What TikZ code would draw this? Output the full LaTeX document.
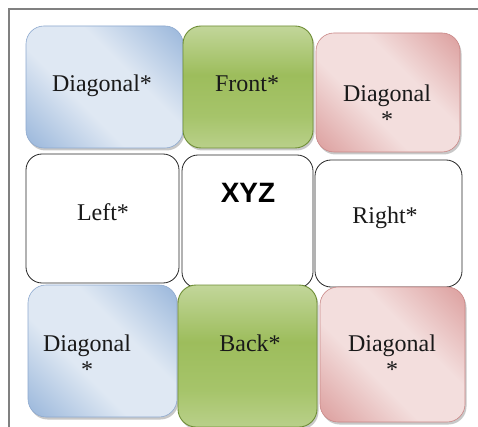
\documentclass[tikz,border=0pt]{standalone}
\usepackage{fontspec}
\setmainfont{Liberation Serif}
\newfontfamily\headfont{Liberation Sans}
\usetikzlibrary{shadows}

\definecolor{bluedark}{HTML}{9AB7DB}
\definecolor{bluelight}{HTML}{DFE8F3}
\definecolor{blueedge}{HTML}{8DA9CF}
\definecolor{pinkdark}{HTML}{DC9F9E}
\definecolor{pinklight}{HTML}{F3DEDD}
\definecolor{pinkedge}{HTML}{C98786}
\definecolor{greentop}{HTML}{C2D69A}
\definecolor{greenmid}{HTML}{9DBD5C}
\definecolor{greenlow}{HTML}{A6C46A}
\definecolor{greenbot}{HTML}{B9D08A}
\definecolor{greenedge}{HTML}{6F8E36}
\definecolor{framegray}{HTML}{808080}

% diagonal sheen: dark corners, light middle band
\pgfdeclarehorizontalshading{bluesheen}{100bp}{color(0bp)=(bluedark); color(15bp)=(bluedark); color(40bp)=(bluelight); color(60bp)=(bluelight); color(85bp)=(bluedark); color(100bp)=(bluedark)}
\pgfdeclarehorizontalshading{pinksheen}{100bp}{color(0bp)=(pinkdark); color(15bp)=(pinkdark); color(40bp)=(pinklight); color(60bp)=(pinklight); color(85bp)=(pinkdark); color(100bp)=(pinkdark)}
% vertical sheen for the green tiles (bottom to top)
\pgfdeclareverticalshading{greensheen}{100bp}{color(0bp)=(greenbot); color(25bp)=(greenbot); color(38bp)=(greenlow); color(55bp)=(greenmid); color(75bp)=(greentop); color(100bp)=(greentop)}

\tikzset{
  tile/.style={rectangle, rounded corners=18pt, inner sep=0pt,
    drop shadow={shadow xshift=1.5pt, shadow yshift=-2.5pt, opacity=0.3, fill=black!70}},
  bluetile/.style={tile, draw=blueedge, line width=0.6pt, shading=bluesheen, shading angle=45},
  pinktile/.style={tile, draw=pinkedge, line width=0.6pt, shading=pinksheen, shading angle=45},
  greentile/.style={tile, draw=greenedge, line width=0.9pt, shading=greensheen},
  plaintile/.style={rectangle, rounded corners=16pt, inner sep=0pt, draw=black!85,
    line width=0.8pt, fill=white},
  caption/.style={font=\fontsize{24}{26}\selectfont, text=black!90, align=center, inner sep=0pt},
  heading/.style={font=\headfont\bfseries\fontsize{28}{30}\selectfont, text=black, inner sep=0pt}
}

\begin{document}
\begin{tikzpicture}[x=1pt, y=-1pt]
  \useasboundingbox (0,0) rectangle (478,427);
  \fill[white] (0,0) rectangle (478,427);

  % outer frame, cut by the page at right and bottom
  \draw[framegray, line width=1.6pt] (9,440) -- (9,9) -- (490,9);

  % top row
  \node[bluetile, minimum width=157pt, minimum height=122pt] (dtl) at (104.5,87) {};
  \node[greentile, minimum width=130pt, minimum height=122pt] (front) at (248,87) {};
  \node[pinktile, minimum width=144pt, minimum height=119pt] (dtr) at (388,92.5) {};

  % middle row
  \node[plaintile, minimum width=153pt, minimum height=129pt] (left) at (102.5,218.5) {};
  \node[plaintile, minimum width=131pt, minimum height=133pt] (xyz) at (247.5,221.5) {};
  \node[plaintile, minimum width=147pt, minimum height=127pt] (right) at (388.5,223.5) {};

  % bottom row
  \node[bluetile, minimum width=149pt, minimum height=132pt] (dbl) at (102.5,351) {};
  \node[greentile, minimum width=139pt, minimum height=142pt] (back) at (247.5,356) {};
  \node[pinktile, minimum width=145pt, minimum height=135pt] (dbr) at (392.5,354.5) {};

  % captions
  \node[caption] (tdtl) at (102,86) {Diagonal*};
  \node[caption] (tfront) at (247,84) {Front*};
  \node[caption] (tdtr) at (387,106) {Diagonal\\*};
  \node[caption] (tleft) at (103,212) {Left*};
  \node[heading] (txyz) at (248,193) {XYZ};
  \node[caption] (tright) at (385,218) {Right*};
  \node[caption] (tdbl) at (87,356) {Diagonal\\*};
  \node[caption] (tback) at (250,343) {Back*};
  \node[caption] (tdbr) at (392,356) {Diagonal\\*};
\end{tikzpicture}
\end{document}
